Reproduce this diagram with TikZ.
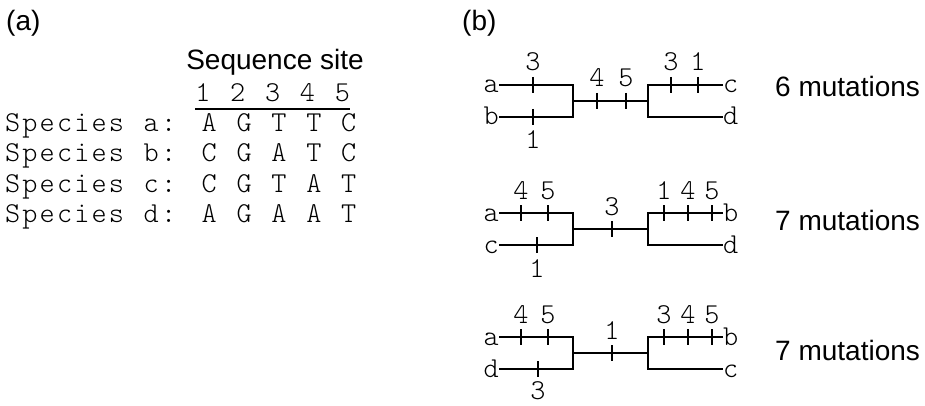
\documentclass[tikz,border=0pt]{standalone}
\usepackage{fontspec}
\setmainfont{Liberation Sans}
\newfontfamily\seqfont[LetterSpace=7.5, WordSpace=1.143]{lmmonolt10-regular.otf}

\tikzset{
  seq/.style={font=\fontsize{28.8}{30}\seqfont, inner sep=0pt, anchor=base west},
  leaf/.style={font=\fontsize{28.8}{30}\seqfont, inner sep=0pt, text height=16pt, text depth=0pt},
  num/.style={font=\fontsize{28.8}{30}\seqfont, inner sep=0pt, anchor=base},
  caption/.style={font=\fontsize{28}{30}\selectfont, inner sep=0pt, anchor=base west},
  branch/.style={line width=1.8pt},
}

\begin{document}
\begin{tikzpicture}[x=1pt, y=-1pt]
  \useasboundingbox (0,0) rectangle (925,406);

  % (a) the alignment
  \node[caption] (pa) at (6,31) {(a)};
  \node[caption, anchor=base] (site) at (275,70) {Sequence site};
  \node[seq] (sitenums) at (195.1,102) {1 2 3 4 5};
  \draw[line width=2pt] ([yshift=-6pt]sitenums.south west) -- ([yshift=-6pt]sitenums.south east);

  \node[seq] (sa) at (5,132) {Species a: A G T T C};
  \node[seq] (sb) at (5,162) {Species b: C G A T C};
  \node[seq] (sc) at (5,192) {Species c: C G T A T};
  \node[seq] (sd) at (5,222) {Species d: A G A A T};

  % (b) the three trees
  \node[caption] (pb) at (462,31) {(b)};

  % tree 1: (a,b),(c,d)
  \node[leaf, anchor=east] (a1) at (499,85) {a};
  \node[leaf, anchor=east] (b1) at (499,117) {b};
  \node[leaf, anchor=west] (c1) at (723,85) {c};
  \node[leaf, anchor=west] (d1) at (723,117) {d};
  \coordinate (l1) at (573,101);
  \coordinate (r1) at (648,101);
  \draw[branch] (a1) -| (l1) |- (b1);
  \draw[branch] (l1) -- (r1);
  \draw[branch] (c1) -| (r1) |- (d1);
  \foreach \x/\m in {533/3, 671/3, 698/1}
    {\draw[branch] (\x,77) -- (\x,93); \node[num] (t1u\x) at (\x,71) {\m};}
  \foreach \x/\m in {597/4, 626/5}
    {\draw[branch] (\x,93) -- (\x,109); \node[num] (t1c\x) at (\x,87) {\m};}
  \foreach \x/\m in {533/1}
    {\draw[branch] (\x,109) -- (\x,125); \node[num] (t1d\x) at (\x,149) {\m};}
  \node[caption] (m1) at (775,97) {6 mutations};

  % tree 2: (a,c),(b,d)
  \node[leaf, anchor=east] (a2) at (499,213) {a};
  \node[leaf, anchor=east] (c2) at (499,245) {c};
  \node[leaf, anchor=west] (b2) at (723,213) {b};
  \node[leaf, anchor=west] (d2) at (723,245) {d};
  \coordinate (l2) at (573,229);
  \coordinate (r2) at (648,229);
  \draw[branch] (a2) -| (l2) |- (c2);
  \draw[branch] (l2) -- (r2);
  \draw[branch] (b2) -| (r2) |- (d2);
  \foreach \x/\m in {521/4, 548/5, 664/1, 688/4, 712/5}
    {\draw[branch] (\x,205) -- (\x,221); \node[num] (t2u\x) at (\x,199) {\m};}
  \foreach \x/\m in {612/3}
    {\draw[branch] (\x,221) -- (\x,237); \node[num] (t2c\x) at (\x,215) {\m};}
  \foreach \x/\m in {537/1}
    {\draw[branch] (\x,237) -- (\x,253); \node[num] (t2d\x) at (\x,277) {\m};}
  \node[caption] (m2) at (775,230) {7 mutations};

  % tree 3: (a,d),(b,c)
  \node[leaf, anchor=east] (a3) at (499,337) {a};
  \node[leaf, anchor=east] (d3) at (499,369) {d};
  \node[leaf, anchor=west] (b3) at (723,337) {b};
  \node[leaf, anchor=west] (c3) at (723,369) {c};
  \coordinate (l3) at (573,353);
  \coordinate (r3) at (648,353);
  \draw[branch] (a3) -| (l3) |- (d3);
  \draw[branch] (l3) -- (r3);
  \draw[branch] (b3) -| (r3) |- (c3);
  \foreach \x/\m in {521/4, 548/5, 664/3, 688/4, 712/5}
    {\draw[branch] (\x,329) -- (\x,345); \node[num] (t3u\x) at (\x,323) {\m};}
  \foreach \x/\m in {612/1}
    {\draw[branch] (\x,345) -- (\x,361); \node[num] (t3c\x) at (\x,339) {\m};}
  \foreach \x/\m in {538/3}
    {\draw[branch] (\x,361) -- (\x,377); \node[num] (t3d\x) at (\x,399) {\m};}
  \node[caption] (m3) at (775,360) {7 mutations};
\end{tikzpicture}
\end{document}
